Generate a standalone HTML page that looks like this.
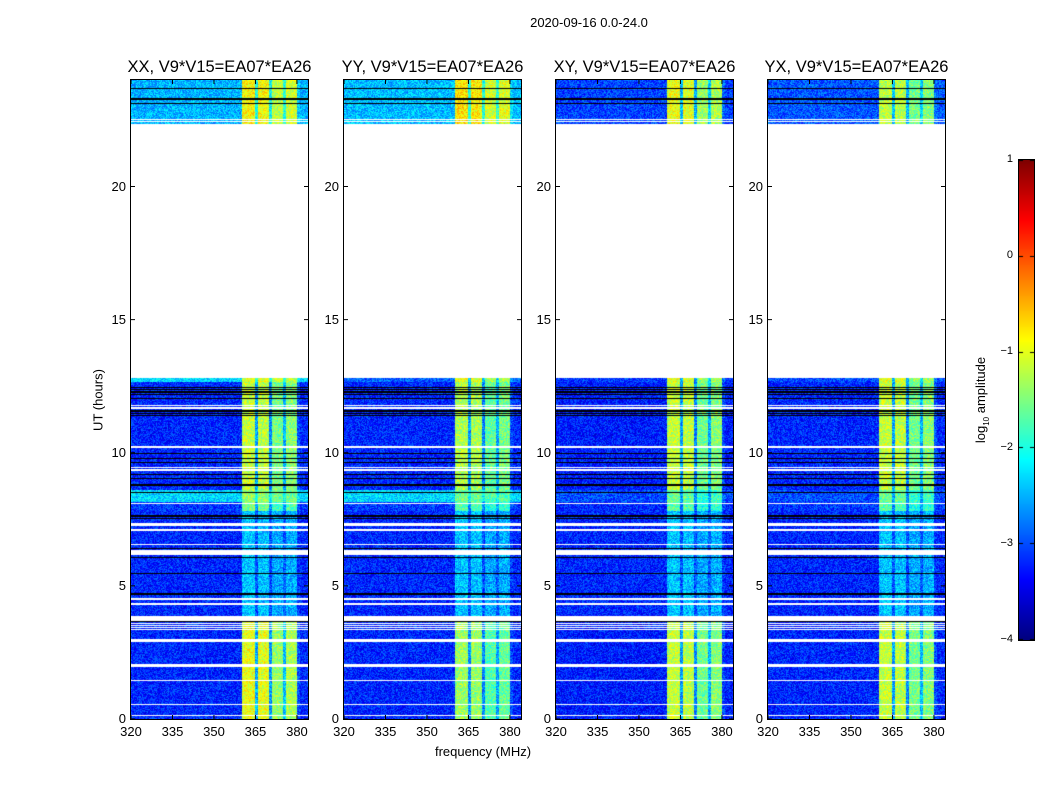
<!DOCTYPE html>
<html><head><meta charset="utf-8">
<style>
body{margin:0;background:#fff;width:1050px;height:800px;overflow:hidden;font-family:"Liberation Sans","DejaVu Sans",sans-serif;}
#root{position:relative;width:1050px;height:800px;}
.t{position:absolute;white-space:nowrap;color:#000;}
canvas{position:absolute;}
</style></head>
<body><div id="root"></div>
<script>
// ---- data ----
const panelTitles=["XX, V9*V15=EA07*EA26","YY, V9*V15=EA07*EA26","XY, V9*V15=EA07*EA26","YX, V9*V15=EA07*EA26"];
const xTicks=[320,335,350,365,380];
const yTicks=[0,5,10,15,20];
const cbTicks=[-4,-3,-2,-1,0,1];
// time segments: [startHour, endHour]
const segStart=[0,3.85,7.8,8.15,8.6,12.65,22.35];
const segEnd=[3.68,7.8,8.15,8.6,12.65,12.82,24];
// background level per segment per panel (log10 amp)
const bgXX=[-3.2,-3.2,-3.1,-2.3,-3.2,-2.3,-2.5];
const bgYY=[-3.2,-3.2,-3.1,-2.3,-3.2,-2.9,-2.45];
const bgXY=[-3.25,-3.2,-3.2,-3.0,-3.25,-3.1,-3.05];
const bgYX=[-3.2,-3.2,-3.1,-3.0,-3.2,-3.0,-2.95];
// band level per segment per panel
const bandXX=[-0.95,-2.4,-1.5,-1.4,-1.15,-1.0,-0.85];
const bandYY=[-1.35,-2.4,-1.7,-1.6,-1.25,-1.0,-0.75];
const bandXY=[-1.15,-2.4,-1.7,-1.6,-1.15,-1.0,-0.95];
const bandYX=[-1.15,-2.4,-1.7,-1.6,-1.15,-1.0,-1.2];
// channel shape per MHz from 320 to 383 (1 = full band)
const chanShape=[0,0,0,0,0,0,0,0,0,0,0,0,0,0,0,0,0,0,0,0,0,0,0,0,0,0,0,0,0,0,0,0,0,0,0,0,0,0,0,0,
0.95,1,1,1,1,0.3,1,0.95,1,0.95,0.25,0.8,0.8,0.8,0.8,0.35,0.85,0.85,0.85,0.85,0.1,0,0,0];
// flagged rows (hours): white = no data, black = masked
const whiteRows=[0.14,0.56,1.46,2.0,2.05,2.92,2.99,3.38,3.46,3.53,3.6,4.34,4.52,6.22,6.27,6.33,6.57,7.12,7.3,7.37,8.12,9.35,9.4,9.46,10.24,11.7,11.8,22.46,22.54];
const blackRows=[3.7,3.74,3.78,4.71,5.49,6.09,6.42,7.55,7.65,8.53,8.8,9.05,9.2,9.65,9.8,10.0,11.42,11.5,11.58,12.05,12.2,12.3,12.4,12.47,23.14,23.31,23.7];
const bgs=[bgXX,bgYY,bgXY,bgYX], bands=[bandXX,bandYY,bandXY,bandYX];

const root=document.getElementById('root');
function txt(s,x,y,size,anchor,name,extra){
  const d=document.createElement('div');d.className='t';d.textContent=s;
  d.style.fontSize=size+'px';d.style.left=x+'px';d.style.top=y+'px';
  d.style.transform=anchor+(extra||'');
  
  
  root.appendChild(d);return d;}
function jet(v){
  const r=Math.min(Math.max(Math.min(4*v-1.5,-4*v+4.5),0),1);
  const g=Math.min(Math.max(Math.min(4*v-0.5,-4*v+3.5),0),1);
  const b=Math.min(Math.max(Math.min(4*v+0.5,-4*v+2.5),0),1);
  return [r*255|0,g*255|0,b*255|0];}
function hash(a,b){let h=(a*374761393+b*668265263)|0;h=(h^(h>>>13))*1274126177|0;return ((h^(h>>>16))>>>0)/4294967296;}

const W=177,H=639,TOP=80,fMin=320,fMax=384,tMax=24;
const lefts=[131,344,556,768];
const xS=f=>(f-fMin)/(fMax-fMin)*W, yS=h=>H-h/tMax*H;
txt("2020-09-16 0.0-24.0",589,15,13,"translateX(-50%)","figure-title");
lefts.forEach((L,p)=>{
  const c=document.createElement('canvas');c.width=W;c.height=H;
  c.style.left=L+'px';c.style.top=TOP+'px';
  
  
  root.appendChild(c);
  const ctx=c.getContext('2d');const im=ctx.createImageData(W,H);
  for(let py=0;py<H;py++){
    const h=(H-py-0.5)/H*tMax;
    let s=-1;for(let i=0;i<segStart.length;i++) if(h>=segStart[i]&&h<segEnd[i]) s=i;
    let flag=0;
    whiteRows.forEach(w=>{if(Math.abs(yS(w)-py)<0.7) flag=1;});
    blackRows.forEach(w=>{if(Math.abs(yS(w)-py)<0.7) flag=2;});
    for(let px=0;px<W;px++){
      const k=4*(py*W+px);let col;
      if(s<0||flag===1) col=[255,255,255];
      else if(flag===2) col=[0,0,0];
      else{
        const f=fMin+(px+0.5)/W*(fMax-fMin);
        const sh=chanShape[Math.min(63,Math.floor(f-fMin))];
        let v=bgs[p][s]+sh*(bands[p][s]-bgs[p][s]);
        v+=(hash(px+p*977,py)-0.5)*0.8;
        col=jet(Math.min(1,Math.max(0,(v+4)/5)));
      }
      im.data[k]=col[0];im.data[k+1]=col[1];im.data[k+2]=col[2];im.data[k+3]=255;
    }
  }
  ctx.putImageData(im,0,0);
  const ns="http://www.w3.org/2000/svg";
  const sv=document.createElementNS(ns,'svg');
  sv.setAttribute('width',W+2);sv.setAttribute('height',H+2);
  sv.style.position='absolute';sv.style.left=(L-1)+'px';sv.style.top=(TOP-1)+'px';
  
  
  let sg=`<rect x="0.5" y="0.5" width="${W+1}" height="${H+1}" fill="none" stroke="#000" stroke-width="1"/>`;
  xTicks.forEach(t=>{const x=xS(t)+1;sg+=`<line x1="${x}" x2="${x}" y1="1" y2="5" stroke="#000"/><line x1="${x}" x2="${x}" y1="${H+1}" y2="${H-3}" stroke="#000"/>`;});
  yTicks.forEach(t=>{const y=yS(t)+1;sg+=`<line x1="1" x2="5" y1="${y}" y2="${y}" stroke="#000"/><line x1="${W+1}" x2="${W-3}" y1="${y}" y2="${y}" stroke="#000"/>`;});
  sv.innerHTML=sg;root.appendChild(sv);
  txt(panelTitles[p],L+W/2,58,16.5,"translateX(-50%)","panel-title-"+(p+1));
  xTicks.forEach(t=>txt(String(t),L+xS(t),724,13,"translateX(-50%)","x-tick-"+t));
  yTicks.forEach(t=>txt(String(t),L-5,TOP+yS(t)-8,13,"translateX(-100%)","y-tick-"+t));
});
txt("UT (hours)",98,400,13,"translate(-50%,-50%)","y-axis-title"," rotate(-90deg)");
txt("frequency (MHz)",483,744,13,"translateX(-50%)","x-axis-title");
const cb=document.createElement('canvas');cb.width=15;cb.height=480;
cb.style.left='1019px';cb.style.top='160px';cb.style.outline='1px solid #000';


root.appendChild(cb);
const cc=cb.getContext('2d');
for(let y=0;y<480;y++){const c=jet(1-y/479);cc.fillStyle=`rgb(${c[0]},${c[1]},${c[2]})`;cc.fillRect(0,y,15,1);}
cc.fillStyle='#000';
cbTicks.forEach(t=>{const y=Math.round((1-t)/5*479);cc.fillRect(0,y,4,1);cc.fillRect(11,y,4,1);
  txt(t<0?"\u2212"+(-t):String(t),1013,160+(1-t)/5*480-7,11,"translateX(-100%)","colorbar-tick-"+t);});
const lab=txt("log",982,400,13,"translate(-50%,-50%)","colorbar-label"," rotate(-90deg)");
lab.innerHTML='log<sub style="font-size:8px">10</sub> amplitude';
</script></body></html>
